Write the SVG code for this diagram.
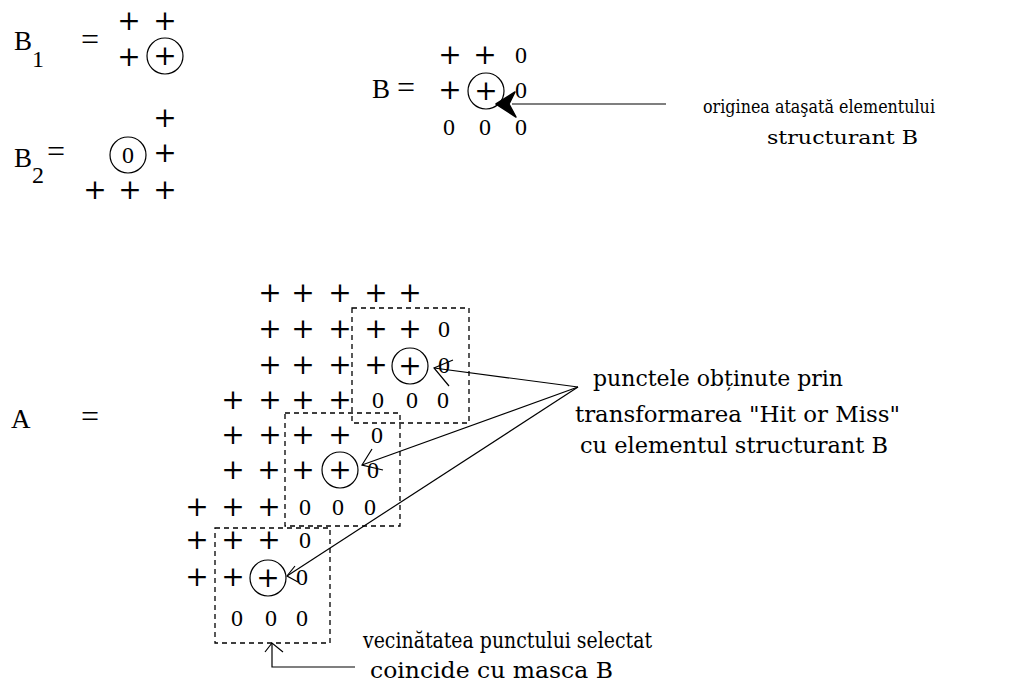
<svg xmlns="http://www.w3.org/2000/svg" width="1032" height="686" viewBox="0 0 1032 686">
<style>
text{font-family:"Liberation Serif","Times New Roman",serif;fill:#000}
.p{font-family:"DejaVu Serif",serif;font-size:28px;text-anchor:middle}
.z{font-size:24px;text-anchor:middle}
.big{font-size:27px}
.eq{font-size:32px}
.lbl{font-family:"DejaVu Serif",serif;font-size:23px}
.sm{font-family:"DejaVu Serif",serif;font-size:18px}
.c{fill:none;stroke:#000;stroke-width:1.2}
.box{fill:none;stroke:#000;stroke-width:1.3;stroke-dasharray:5 4}
.ln{fill:none;stroke:#000;stroke-width:1.2}
</style>
<rect width="1032" height="686" fill="#fff"/>

<g id="B1">
<text class="big" x="14" y="50">B</text>
<text class="z" x="38" y="67">1</text>
<text class="eq" x="81" y="50">=</text>
<text class="p" x="129" y="30">+</text>
<text class="p" x="165" y="30">+</text>
<text class="p" x="129" y="66">+</text>
<circle class="c" cx="165" cy="56" r="18"/>
<text class="p" x="165" y="65">+</text>
</g>

<g id="B2">
<text class="big" x="14" y="167">B</text>
<text class="z" x="38" y="183">2</text>
<text class="eq" x="47" y="162">=</text>
<text class="p" x="165" y="127">+</text>
<circle class="c" cx="128" cy="155" r="18"/>
<text class="z" x="128" y="163">0</text>
<text class="p" x="165" y="162">+</text>
<text class="p" x="95" y="199">+</text>
<text class="p" x="130" y="199">+</text>
<text class="p" x="165" y="199">+</text>
</g>

<g id="B">
<text class="big" x="372" y="98">B</text>
<text class="eq" x="397" y="98">=</text>
<text class="p" x="450" y="64">+</text>
<text class="p" x="485" y="64">+</text>
<text class="z" x="521" y="63">0</text>
<text class="p" x="450" y="99">+</text>
<circle class="c" cx="486" cy="91" r="18"/>
<text class="p" x="486" y="100">+</text>
<text class="z" x="521" y="98">0</text>
<text class="z" x="449" y="135">0</text>
<text class="z" x="485" y="135">0</text>
<text class="z" x="521" y="135">0</text>
</g>

<g id="label-origin">
<text class="sm" x="703" y="113" textLength="232" lengthAdjust="spacingAndGlyphs">originea ataşată elementului</text>
<text class="sm" x="767" y="144" textLength="151" lengthAdjust="spacingAndGlyphs">structurant B</text>
</g>

<g id="A-label">
<text class="big" x="11" y="428">A</text>
<text class="eq" x="81" y="427">=</text>
</g>

<g id="A-grid">
<text class="p" x="270" y="302">+</text><text class="p" x="303" y="302">+</text><text class="p" x="340" y="302">+</text><text class="p" x="376" y="302">+</text><text class="p" x="410" y="302">+</text>
<text class="p" x="270" y="338">+</text><text class="p" x="303" y="338">+</text><text class="p" x="340" y="338">+</text><text class="p" x="376" y="338">+</text><text class="p" x="410" y="338">+</text><text class="z" x="444" y="337">0</text>
<text class="p" x="270" y="374">+</text><text class="p" x="303" y="374">+</text><text class="p" x="340" y="374">+</text><text class="p" x="376" y="374">+</text>
<circle class="c" cx="410" cy="366" r="18"/><text class="p" x="410" y="375">+</text><text class="z" x="444" y="373">0</text>
<text class="p" x="233" y="409">+</text><text class="p" x="270" y="409">+</text><text class="p" x="303" y="409">+</text><text class="p" x="340" y="409">+</text><text class="z" x="378" y="408">0</text><text class="z" x="412" y="408">0</text><text class="z" x="443" y="408">0</text>
<text class="p" x="233" y="444">+</text><text class="p" x="270" y="444">+</text><text class="p" x="303" y="444">+</text><text class="p" x="340" y="444">+</text><text class="z" x="377" y="443">0</text>
<text class="p" x="233" y="479">+</text><text class="p" x="269" y="479">+</text><text class="p" x="303" y="479">+</text>
<circle class="c" cx="340" cy="470" r="18"/><text class="p" x="340" y="479">+</text><text class="z" x="373" y="478">0</text>
<text class="p" x="197" y="516">+</text><text class="p" x="233" y="516">+</text><text class="p" x="269" y="516">+</text><text class="z" x="305" y="515">0</text><text class="z" x="338" y="515">0</text><text class="z" x="370" y="515">0</text>
<text class="p" x="197" y="549">+</text><text class="p" x="233" y="549">+</text><text class="p" x="269" y="549">+</text><text class="z" x="305" y="548">0</text>
<text class="p" x="197" y="586">+</text><text class="p" x="233" y="586">+</text>
<circle class="c" cx="268" cy="578" r="18"/><text class="p" x="268" y="587">+</text><text class="z" x="302" y="585">0</text>
<text class="z" x="237" y="626">0</text><text class="z" x="271" y="626">0</text><text class="z" x="302" y="626">0</text>
</g>

<g id="masks">
<rect class="box" x="352" y="308" width="117" height="115"/>
<rect class="box" x="285" y="413" width="115" height="113"/>
<rect class="box" x="215" y="528" width="115" height="115"/>
</g>

<g id="label-points">
<text class="lbl" x="593" y="386" textLength="250" lengthAdjust="spacingAndGlyphs">punctele obținute prin</text>
<text class="lbl" x="575" y="422" textLength="325" lengthAdjust="spacingAndGlyphs">transformarea "Hit or Miss"</text>
<text class="lbl" x="580" y="453" textLength="308" lengthAdjust="spacingAndGlyphs">cu elementul structurant B</text>
</g>

<g id="label-neighbourhood">
<text class="lbl" x="363" y="648" textLength="289" lengthAdjust="spacingAndGlyphs">vecinătatea punctului selectat</text>
<text class="lbl" x="370" y="678" textLength="243" lengthAdjust="spacingAndGlyphs">coincide cu masca B</text>
</g>

<g id="connectors">
<line class="ln" x1="512" y1="104" x2="666" y2="104"/>
<path d="M496,104 L515,92 L509,104 L516,117 Z" fill="#000" stroke="#000" stroke-width="1.5" stroke-linejoin="round"/>
<line class="ln" x1="578" y1="387" x2="434" y2="368"/>
<polyline class="ln" points="453,360 434,368 449,386"/>
<line class="ln" x1="578" y1="387" x2="362" y2="465"/>
<polyline class="ln" points="372,449 362,465 383,470"/>
<line class="ln" x1="578" y1="387" x2="287" y2="576"/>
<polyline class="ln" points="295,566 287,576 298,582"/>
<polyline class="ln" points="355,667 272,667 272,643"/>
<polyline class="ln" points="265,652 272,643 283,652"/>
</g>
</svg>
